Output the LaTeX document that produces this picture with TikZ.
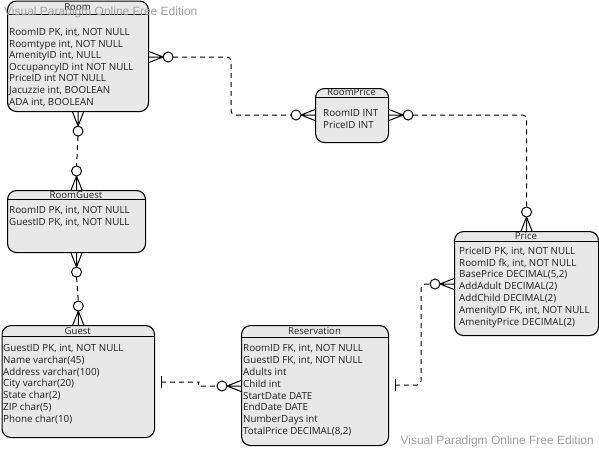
\documentclass[tikz,border=0pt]{standalone}
\usepackage{fontspec}
\setmainfont{Open Sans}
\newfontfamily\wmfont{Liberation Sans}
\definecolor{boxgray}{HTML}{E8E8E8}
\definecolor{wmgray}{HTML}{A0A0A0}
\definecolor{inkc}{HTML}{1E1E1E}

% one row of attribute text per item, baselines spaced by #4
\newcommand\attrrows[5]{%
  \foreach \t [count=\i] in {#5}
    \node[attr] (#1-\i) at (#2,{#3+(\i-1)*#4}) {\t};
}

\begin{document}
\begin{tikzpicture}[x=1pt,y=-1pt,
  entity/.style={draw=black, line width=1.1pt, fill=boxgray, rounded corners=9pt,
    inner sep=0pt, anchor=north west},
  hdr/.style={line width=1pt},
  ttl/.style={font=\fontsize{9.6}{11}\selectfont, text=inkc, inner sep=0pt, anchor=base},
  attr/.style={font=\fontsize{9.8}{11}\selectfont, text=inkc, inner sep=0pt, anchor=base west},
  conn/.style={line width=1pt, solid},
  rel/.style={line width=1pt, dash pattern=on 5pt off 4pt, rounded corners=4pt},
  wm/.style={font=\wmfont\fontsize{12}{14}\selectfont, text=wmgray, inner sep=0pt},
  crowo/.pic={
    \draw[conn] (0,-5.5) -- (14,0) -- (0,5.5) (0,0) -- (14,0);
    \draw[conn, fill=white] (19,0) circle[radius=5pt];
    \coordinate (-tip) at (24,0);
  },
  onebar/.pic={
    \draw[conn] (6,-6) -- (6,6);
    \coordinate (-tip) at (6,0);
  },
]
\useasboundingbox (0,0) rectangle (599,450);

% ---------- entities ----------
\node[entity, minimum width=141pt, minimum height=110.5pt] (room) at (7,0.5) {};
\draw[hdr] (room.west |- 0,14) -- (room.east |- 0,14);
\node[ttl] (roomT) at (77.5,10.3) {Room};
\attrrows{roomA}{9}{35.4}{11.6}{{RoomID PK, int, NOT NULL},{Roomtype int, NOT NULL},{AmenityID int, NULL},{OccupancyID int NOT NULL},{PriceID int NOT NULL},{Jacuzzie int, BOOLEAN},{ADA int, BOOLEAN}}

\node[entity, minimum width=138pt, minimum height=62pt] (roomguest) at (7,190) {};
\draw[hdr] (roomguest.west |- 0,199) -- (roomguest.east |- 0,199);
\node[ttl] (roomguestT) at (76,198.3) {RoomGuest};
\attrrows{roomguestA}{9}{213.5}{12}{{RoomID PK, int, NOT NULL},{GuestID PK, int, NOT NULL}}

\node[entity, minimum width=152.5pt, minimum height=112pt] (guest) at (1.5,325) {};
\draw[hdr] (guest.west |- 0,336.5) -- (guest.east |- 0,336.5);
\node[ttl] (guestT) at (77.75,334.3) {Guest};
\attrrows{guestA}{3}{351.8}{11.7}{{GuestID PK, int, NOT NULL},{Name varchar(45)},{Address varchar(100)},{City varchar(20)},{State char(2)},{ZIP char(5)},{Phone char(10)}}

\node[entity, minimum width=147pt, minimum height=120pt] (reservation) at (241,325) {};
\draw[hdr] (reservation.west |- 0,337) -- (reservation.east |- 0,337);
\node[ttl] (reservationT) at (314.5,334.3) {Reservation};
\attrrows{reservationA}{243}{351.8}{11.8}{{RoomID FK, int, NOT NULL},{GuestID FK, int, NOT NULL},{Adults int},{Child int},{StartDate DATE},{EndDate DATE},{NumberDays int},{TotalPrice DECIMAL(8,2)}}

\node[entity, minimum width=73pt, minimum height=54pt] (roomprice) at (315,88) {};
\draw[hdr] (roomprice.west |- 0,97.5) -- (roomprice.east |- 0,97.5);
\node[ttl] (roompriceT) at (351.5,95.8) {RoomPrice};
\attrrows{roompriceA}{323}{116.8}{11.5}{{RoomID INT},{PriceID INT}}

\node[entity, minimum width=144pt, minimum height=104pt] (price) at (454,231) {};
\draw[hdr] (price.west |- 0,241) -- (price.east |- 0,241);
\node[ttl] (priceT) at (526,239.3) {Price};
\attrrows{priceA}{459}{254.2}{11.8}{{PriceID PK, int, NOT NULL},{RoomID fk, int, NOT NULL},{BasePrice DECIMAL(5,2)},{AddAdult DECIMAL(2)},{AddChild DECIMAL(2)},{AmenityID FK, int, NOT NULL},{AmenityPrice DECIMAL(2)}}

% ---------- relationship ends ----------
\pic (rmR) at (room.east |- 0,57) {crowo};
\pic[rotate=-90] (rmB) at (room.south) {crowo};
\pic[rotate=90] (rgT) at (roomguest.north) {crowo};
\pic[rotate=-90] (rgB) at (roomguest.south) {crowo};
\pic[rotate=90] (guT) at (guest.north) {crowo};
\pic[rotate=180] (rpL) at (roomprice.west |- 0,115) {crowo};
\pic (rpR) at (roomprice.east |- 0,115) {crowo};
\pic[rotate=90] (prT) at (price.north) {crowo};
\pic[rotate=180] (prL) at (price.west |- 0,284) {crowo};
\pic (gR) at (guest.east |- 0,382) {onebar};
\pic[rotate=180] (rsL) at (reservation.west |- 0,386) {crowo};
\pic (rsR) at (reservation.east |- 0,385) {onebar};

% ---------- relationships ----------
\draw[rel] (rmR-tip) -| (231,115) -- (rpL-tip);
\draw[rel] (rpR-tip) -| (prT-tip);
\draw[rel] (rmB-tip) -- (rgT-tip);
\draw[rel] (rgB-tip) -- (guT-tip);
\draw[rel] (gR-tip) -- (195,382) .. controls (199,382) and (198,386) .. (202,386) -- (rsL-tip);
\draw[rel] (rsR-tip) -| (421,284) -- (prL-tip);

% ---------- edition marks ----------
\node[wm, anchor=base west] (wmTop) at (4,15.5) {Visual Paradigm Online Free Edition};
\node[wm, anchor=base east] (wmBottom) at (594,444.5) {Visual Paradigm Online Free Edition};
\end{tikzpicture}
\end{document}
